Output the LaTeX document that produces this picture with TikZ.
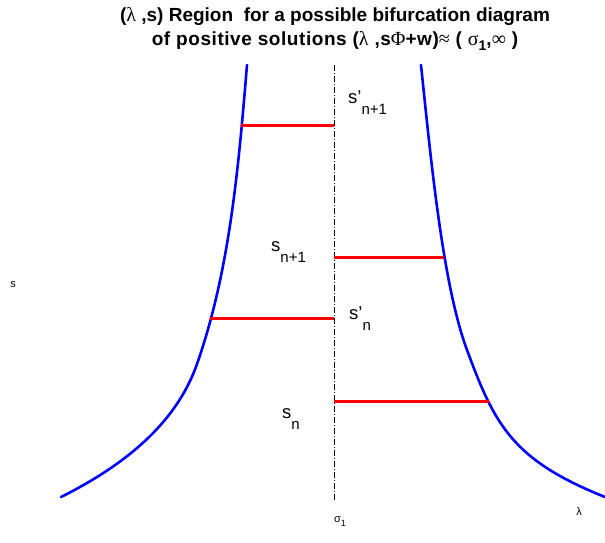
\documentclass[tikz,border=0pt]{standalone}
\usepackage{fontspec}
\setmainfont{Liberation Sans}
\newfontfamily\symfont{Liberation Serif}
\begin{document}
\begin{tikzpicture}[x=1pt,y=-1pt,
  curve/.style={blue,line width=2.6pt,line cap=round},
  redline/.style={red,line width=3pt},
  axis/.style={black,line width=0.6pt,dash pattern=on 6pt off 2pt on 1pt off 2pt},
  lab/.style={inner sep=0pt,anchor=base west,font=\fontsize{18.5}{18.5}\selectfont},
  small/.style={inner sep=0pt,font=\fontsize{11}{11}\selectfont},
  titlestyle/.style={inner sep=0pt,align=center,font=\bfseries\fontsize{19}{24}\selectfont}]
\newcommand\subl[1]{\raisebox{-0.6em}{\fontsize{15}{15}\selectfont #1}}
\newcommand\gk[1]{{\symfont\mdseries\fontsize{20}{24}\selectfont #1}}
\useasboundingbox (0,0) rectangle (605,542);
% title
\node[titlestyle] (title) at (335,29) {(\gk{λ} ,s) Region\ \ for a possible bifurcation diagram\\{\addfontfeatures{LetterSpace=3}of positive solutions (\gk{λ}\ ,s\gk{Φ}+w)\gk{≈} (\ \gk{σ}\raisebox{-0.3em}{\fontsize{14}{14}\selectfont 1},\gk{∞}\ )}};
% axis
\coordinate (axtop) at (334,65);
\coordinate (axbot) at (334,500);
\draw[axis] (axtop) -- (axbot);
% left curve
\draw[curve] (61,497) .. controls (141.5,456.8) and (180.5,411.2) .. (197,364)
                      .. controls (230.1,269.6) and (238.7,164.7) .. (247,65);
% right curve
\draw[curve] (421,65) .. controls (431,160.5) and (442.7,284.3) .. (467,350)
                      .. controls (494.8,425) and (512.2,459.9) .. (605,497);
% red lines
\coordinate (a1) at (241,125); \coordinate (a2) at (334,125);
\coordinate (b1) at (334,257); \coordinate (b2) at (444,257);
\coordinate (c1) at (210,318); \coordinate (c2) at (334,318);
\coordinate (d1) at (334,401); \coordinate (d2) at (489,401);
\draw[redline] (a1) -- (a2);
\draw[redline] (b1) -- (b2);
\draw[redline] (c1) -- (c2);
\draw[redline] (d1) -- (d2);
% labels
\node[lab] (l1) at (348,103) {s’\subl{n+1}};
\node[lab] (l2) at (271,251) {s\subl{n+1}};
\node[lab] (l3) at (349,319) {s’\subl{n}};
\node[lab] (l4) at (282,418) {s\subl{n}};
\node[small] (sig) at (340,522) {σ\raisebox{-0.35em}{\fontsize{9}{9}\selectfont 1}};
\node[small] (lam) at (579,512) {λ};
\node[small] (s) at (13,285) {s};
\end{tikzpicture}
\end{document}
